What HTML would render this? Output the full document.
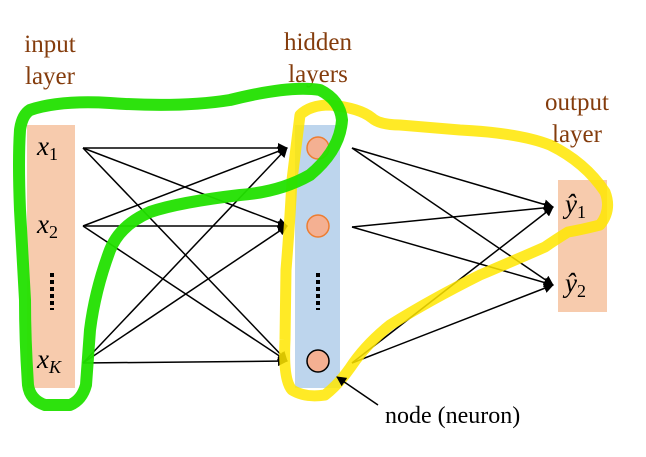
<!DOCTYPE html>
<html><head><style>
body{margin:0;background:#fff;}
svg{display:block;}
.lbl{font-family:"Liberation Serif",serif;font-size:25px;fill:#843C0C;text-anchor:middle;}
.m{font-family:"Liberation Serif",serif;font-style:italic;font-size:27px;fill:#000;}
</style></head><body>
<svg width="646" height="457" viewBox="0 0 646 457" xmlns="http://www.w3.org/2000/svg">
<defs><marker id="a" markerWidth="10" markerHeight="10" refX="9" refY="5" orient="auto" markerUnits="userSpaceOnUse"><path d="M0,0 L10,5 L0,10z" fill="#000"/></marker>
<pattern id="d" width="4" height="7" patternUnits="userSpaceOnUse"><rect width="4" height="4" fill="#000"/></pattern></defs>
<text class="lbl" x="50" y="52">input</text>
<text class="lbl" x="50" y="84">layer</text>
<text class="lbl" x="318" y="50">hidden</text>
<text class="lbl" x="318" y="82">layers</text>
<text class="lbl" x="577" y="110">output</text>
<text class="lbl" x="577" y="142">layer</text>
<rect x="27" y="125" width="48" height="263" fill="#f7cbad"/>
<rect x="295" y="125" width="45" height="263" fill="#bdd5ed"/>
<rect x="558" y="180" width="49" height="132" fill="#f7cbad"/>
<g stroke="#000" stroke-width="1.5" marker-end="url(#a)">
<line x1="83" y1="148" x2="287" y2="148"/><line x1="83" y1="148" x2="287" y2="226"/><line x1="83" y1="148" x2="287" y2="361"/>
<line x1="83" y1="226" x2="287" y2="148"/><line x1="83" y1="226" x2="287" y2="226"/><line x1="83" y1="226" x2="287" y2="361"/>
<line x1="83" y1="363" x2="287" y2="148"/><line x1="83" y1="363" x2="287" y2="226"/><line x1="83" y1="363" x2="287" y2="361"/>
<line x1="352" y1="148" x2="553" y2="207"/><line x1="352" y1="148" x2="553" y2="285"/>
<line x1="352" y1="227" x2="553" y2="207"/><line x1="352" y1="227" x2="553" y2="285"/>
<line x1="352" y1="363" x2="553" y2="207"/><line x1="352" y1="363" x2="553" y2="285"/>
</g>
<circle cx="318" cy="148" r="11" fill="#f4b092" stroke="#ed7d31" stroke-width="1.5"/>
<circle cx="318" cy="226" r="11" fill="#f4b092" stroke="#ed7d31" stroke-width="1.5"/>
<circle cx="318" cy="361" r="11" fill="#f4b092" stroke="#000" stroke-width="1.5"/>
<rect x="50" y="270" width="4" height="40" fill="url(#d)"/>
<rect x="316" y="270" width="4" height="40" fill="url(#d)"/>
<text class="m" x="37" y="155">x<tspan font-style="normal" font-size="18" dy="5">1</tspan></text>
<text class="m" x="37" y="233">x<tspan font-style="normal" font-size="18" dy="5">2</tspan></text>
<text class="m" x="37" y="368">x<tspan font-size="18" dy="5">K</tspan></text>
<text class="m" x="565" y="213">ŷ<tspan font-style="normal" font-size="18" dy="5">1</tspan></text>
<text class="m" x="565" y="292">ŷ<tspan font-style="normal" font-size="18" dy="5">2</tspan></text>
<text x="385" y="423" font-family="Liberation Serif,serif" font-size="24">node (neuron)</text>
<path d="M300,115 Q310,105 330,105 Q360,108 372,118 Q380,125 400,125 L460,130 Q520,133 550,145 Q585,162 605,192 Q612,210 600,225 Q580,230 568,232 Q555,240 545,247 Q520,258 480,275 Q430,300 390,325 Q365,345 350,368 Q338,385 325,395 Q305,398 292,390 Q283,380 285,340 L286,270 Q290,220 292,180 Z" fill="none" stroke="#ffe600" stroke-opacity="0.85" stroke-width="11" stroke-linejoin="round"/>
<path d="M30,110 Q60,100 110,103 Q180,108 230,100 Q290,85 320,90 Q340,100 342,120 Q340,150 310,175 Q280,192 240,195 Q180,202 150,212 Q120,225 110,250 Q95,290 90,330 L86,385 Q82,400 70,405 L45,405 Q30,400 28,385 Q25,340 25,300 L20,210 Q18,160 20,130 Q22,115 30,110 Z" fill="none" stroke="#22e000" stroke-opacity="0.95" stroke-width="12" stroke-linejoin="round"/>
<line x1="378" y1="405" x2="337" y2="377" stroke="#000" stroke-width="1.5" marker-end="url(#a)"/>
</svg>
</body></html>
